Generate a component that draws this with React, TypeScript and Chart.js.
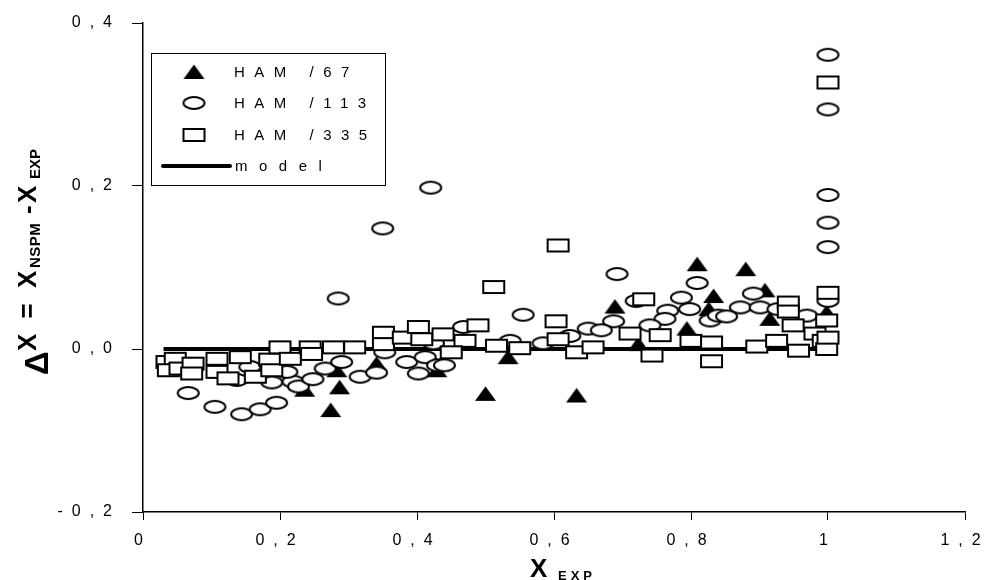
import { useEffect, useRef } from 'react';
import { Chart, registerables } from 'chart.js';

Chart.register(...registerables);

// Tick labels (decimal comma)
const xTickLabels = ['0', '0,2', '0,4', '0,6', '0,8', '1', '1,2'];
const yTickLabels = ['-0,2', '0,0', '0,2', '0,4'];

// HAM/67
const ham67X = [0.236, 0.274, 0.283, 0.287, 0.341, 0.429, 0.5, 0.533, 0.633, 0.689, 0.723, 0.794, 0.809, 0.826, 0.833, 0.88, 0.908, 0.915, 0.998];
const ham67Y = [-0.05, -0.075, -0.026, -0.047, -0.018, -0.026, -0.055, -0.01, -0.057, 0.052, 0.006, 0.025, 0.104, 0.049, 0.065, 0.098, 0.072, 0.037, 0.045];

// HAM/113
const ham113X = [
  0.066, 0.105, 0.144, 0.171, 0.195, 0.137, 0.156, 0.188, 0.219, 0.227, 0.248, 0.266, 0.29, 0.317, 0.341, 0.353,
  0.385, 0.402, 0.412, 0.43, 0.21, 0.285, 0.35, 0.42, 0.555, 0.692, 0.809, 0.786, 0.72, 0.766, 0.798, 0.762,
  0.687, 0.65, 0.669, 0.74, 0.828, 0.84, 0.468, 0.424, 0.44, 0.536, 0.584, 0.623, 0.891, 0.872, 0.901, 0.852,
  0.927, 1.0, 0.969, 1.0, 1.0, 1.0, 1.0, 1.0,
];
const ham113Y = [
  -0.054, -0.071, -0.08, -0.074, -0.066, -0.038, -0.022, -0.041, -0.04, -0.046, -0.037, -0.024, -0.016, -0.034, -0.029, -0.004,
  -0.016, -0.03, -0.01, -0.02, -0.028, 0.062, 0.148, 0.198, 0.042, 0.092, 0.081, 0.063, 0.059, 0.047, 0.049, 0.037,
  0.034, 0.025, 0.023, 0.029, 0.035, 0.041, 0.027, 0.007, -0.02, 0.01, 0.007, 0.016, 0.068, 0.051, 0.051, 0.04,
  0.049, 0.059, 0.041, 0.361, 0.294, 0.189, 0.155, 0.125,
];

// HAM/335
const ham335X = [
  0.035, 0.047, 0.037, 0.054, 0.073, 0.071, 0.108, 0.108, 0.142, 0.124, 0.164, 0.185, 0.188, 0.2, 0.215, 0.244,
  0.246, 0.278, 0.309, 0.351, 0.351, 0.38, 0.402, 0.407, 0.606, 0.512, 0.603, 0.731, 0.438, 0.489, 0.47, 0.45,
  0.516, 0.55, 0.606, 0.633, 0.657, 0.711, 0.755, 0.743, 0.8, 0.83, 0.942, 0.942, 1.0, 0.949, 0.998, 0.981,
  0.83, 0.896, 0.925, 0.957, 0.993, 0.998, 1.0, 1.0,
];
const ham335Y = [
  -0.016, -0.012, -0.026, -0.024, -0.018, -0.03, -0.012, -0.028, -0.01, -0.036, -0.034, -0.013, -0.026, 0.002, -0.012, 0.002,
  -0.006, 0.002, 0.002, 0.02, 0.006, 0.014, 0.027, 0.012, 0.127, 0.076, 0.034, 0.061, 0.018, 0.029, 0.01, -0.004,
  0.004, 0.001, 0.012, -0.004, 0.002, 0.019, 0.017, -0.008, 0.01, -0.015, 0.057, 0.046, 0.069, 0.029, 0.035, 0.019,
  0.008, 0.003, 0.01, -0.002, 0.01, 0.0, 0.014, 0.327,
];

// model
const modelX = [0.03, 1.0];
const modelY = [0, 0];

const seriesLabels = ['HAM /67', 'HAM /113', 'HAM /335', 'model'];

const FONT = '"Liberation Sans", Arial, sans-serif';

function pairs(xs: number[], ys: number[]) {
  return xs.map((x, i) => ({ x, y: ys[i] }));
}

function makeMarker(kind: 'triangle' | 'circle' | 'rect'): HTMLCanvasElement {
  const w = 23;
  const h = 14;
  const c = document.createElement('canvas');
  c.width = w + 4;
  c.height = h + 4;
  const g = c.getContext('2d')!;
  g.lineWidth = 2;
  g.strokeStyle = '#000';
  g.fillStyle = '#fff';
  const cx = c.width / 2;
  const cy = c.height / 2;
  if (kind === 'triangle') {
    g.fillStyle = '#000';
    g.beginPath();
    g.moveTo(cx, cy - h / 2 - 0.5);
    g.lineTo(cx + w / 2 - 1, cy + h / 2);
    g.lineTo(cx - w / 2 + 1, cy + h / 2);
    g.closePath();
    g.fill();
  } else if (kind === 'circle') {
    g.beginPath();
    g.ellipse(cx, cy, w / 2 - 1, h / 2 - 1, 0, 0, Math.PI * 2);
    g.fill();
    g.stroke();
  } else {
    g.beginPath();
    g.rect(cx - w / 2 + 1, cy - h / 2 + 1, w - 2, h - 2);
    g.fill();
    g.stroke();
  }
  return c;
}

function drawSpaced(ctx: CanvasRenderingContext2D, text: string, x: number, y: number, spacing: number) {
  (ctx as any).letterSpacing = spacing + 'px';
  ctx.fillText(text, x, y);
  (ctx as any).letterSpacing = '0px';
}

function makeDecorPlugin(markers: HTMLCanvasElement[]) {
  return {
    id: 'decor',
    beforeDraw(chart: any) {
      // spaced digits on the tick labels
      (chart.ctx as any).letterSpacing = '9px';
    },
    afterDraw(chart: any) {
      const ctx: CanvasRenderingContext2D = chart.ctx;
      ctx.save();
      (ctx as any).letterSpacing = '0px';
      ctx.fillStyle = '#000';
      ctx.textAlign = 'left';
      ctx.textBaseline = 'alphabetic';

      // x axis title: X with subscript EXP
      ctx.font = `bold 26px ${FONT}`;
      ctx.fillText('X', 530, 577);
      ctx.font = `bold 13px ${FONT}`;
      drawSpaced(ctx, 'EXP', 558, 580, 4);

      // y axis title, rotated (reads bottom to top)
      ctx.save();
      ctx.translate(0, 0);
      ctx.rotate(-Math.PI / 2);
      ctx.font = `bold 33px ${FONT}`;
      ctx.fillText('\u0394', -375, 48);
      ctx.font = `bold 26px ${FONT}`;
      drawSpaced(ctx, 'X = X', -351, 36, 4);
      ctx.font = `bold 15px ${FONT}`;
      drawSpaced(ctx, 'NSPM', -268, 40, 0.5);
      ctx.font = `bold 26px ${FONT}`;
      ctx.fillText('-', -214, 36);
      ctx.fillText('X', -203, 36);
      ctx.font = `bold 15px ${FONT}`;
      drawSpaced(ctx, 'EXP', -179, 40, 0);
      ctx.restore();

      // legend
      const lx = 151;
      const ly = 53;
      const lw = 234;
      const lh = 132;
      ctx.fillStyle = '#fff';
      ctx.fillRect(lx, ly, lw, lh);
      ctx.strokeStyle = '#000';
      ctx.lineWidth = 1;
      ctx.strokeRect(lx + 0.5, ly + 0.5, lw, lh);
      const rows = [72, 103, 135, 166];
      ctx.fillStyle = '#000';
      ctx.font = `15px ${FONT}`;
      ctx.textBaseline = 'middle';
      for (let i = 0; i < 3; i++) {
        const m = markers[i];
        ctx.drawImage(m, 194 - m.width / 2, rows[i] - m.height / 2);
        drawSpaced(ctx, seriesLabels[i], 234, rows[i] + 1, 9.5);
      }
      ctx.beginPath();
      ctx.lineWidth = 4;
      ctx.lineCap = 'round';
      ctx.moveTo(163, rows[3]);
      ctx.lineTo(230, rows[3]);
      ctx.stroke();
      drawSpaced(ctx, seriesLabels[3], 235, rows[3] + 1, 11.5);
      ctx.restore();
    },
  };
}

export default function App() {
  const ref = useRef<HTMLCanvasElement | null>(null);

  useEffect(() => {
    const canvas = ref.current!;
    const markers = [makeMarker('triangle'), makeMarker('circle'), makeMarker('rect')];
    const zeroPad = (scale: any) => {
      scale.paddingLeft = 0;
      scale.paddingRight = 0;
      scale.paddingTop = 0;
      scale.paddingBottom = 0;
    };
    const chart = new Chart(canvas, {
      type: 'scatter',
      data: {
        datasets: [
          {
            label: seriesLabels[2],
            data: pairs(ham335X, ham335Y),
            pointStyle: markers[2] as any,
            order: 0,
          },
          {
            label: seriesLabels[1],
            data: pairs(ham113X, ham113Y),
            pointStyle: markers[1] as any,
            order: 1,
          },
          {
            label: seriesLabels[0],
            data: pairs(ham67X, ham67Y),
            pointStyle: markers[0] as any,
            order: 2,
          },
          {
            label: seriesLabels[3],
            data: pairs(modelX, modelY),
            showLine: true,
            borderColor: '#000',
            borderWidth: 4,
            pointRadius: 0,
            order: 3,
          } as any,
        ],
      },
      options: {
        animation: false,
        responsive: false,
        events: [],
        layout: { padding: { left: 0, top: 23, right: 19, bottom: 0 } },
        plugins: { legend: { display: false }, tooltip: { enabled: false } },
        scales: {
          x: {
            type: 'linear',
            min: 0,
            max: 1.2,
            afterFit: (s: any) => {
              s.height = 68;
              zeroPad(s);
            },
            border: { display: true, color: '#000', width: 1.5 },
            grid: { drawOnChartArea: false, drawTicks: true, tickLength: 8, color: '#000', lineWidth: 1 },
            ticks: {
              stepSize: 0.2,
              padding: 11,
              color: '#000',
              font: { family: FONT, size: 16 },
              maxRotation: 0,
              autoSkip: false,
              callback: (v: any) => xTickLabels[Math.round(Number(v) / 0.2)] ?? '',
            },
          },
          y: {
            type: 'linear',
            min: -0.2,
            max: 0.4,
            afterFit: (s: any) => {
              s.width = 143;
              zeroPad(s);
            },
            border: { display: true, color: '#000', width: 1.5 },
            grid: { drawOnChartArea: false, drawTicks: true, tickLength: 11, color: '#000', lineWidth: 1 },
            ticks: {
              stepSize: 0.2,
              padding: 11,
              color: '#000',
              font: { family: FONT, size: 16 },
              autoSkip: false,
              callback: (v: any) => yTickLabels[Math.round((Number(v) + 0.2) / 0.2)] ?? '',
            },
          },
        },
      },
      plugins: [makeDecorPlugin(markers)],
    });
    return () => chart.destroy();
  }, []);

  return (
    <div style={{ position: 'fixed', left: 0, top: 0, width: 984, height: 580, background: '#fff' }}>
      <canvas ref={ref} width={984} height={580} style={{ width: 984, height: 580 }} />
    </div>
  );
}
